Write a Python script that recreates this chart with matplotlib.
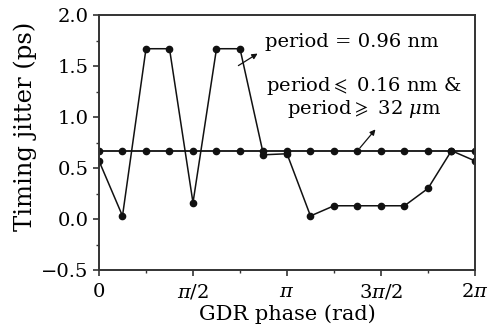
import numpy as np
from matplotlib import pyplot as plt
from matplotlib.ticker import MultipleLocator

# GDR phase points: 0 .. 2pi, step pi/8
phase_steps = list(range(17))
jitter_096 = [0.57, 0.03, 1.67, 1.67, 0.16, 1.67, 1.67, 0.63, 0.64,
              0.03, 0.13, 0.13, 0.13, 0.13, 0.30, 0.67, 0.57]
jitter_other = [0.67] * 17
xtick_labels = ['0', r'$\pi/2$', r'$\pi$', r'$3\pi/2$', r'$2\pi$']

phase = np.array(phase_steps) * np.pi / 8

plt.rcParams['font.family'] = 'DejaVu Serif'
plt.rcParams['mathtext.fontset'] = 'dejavuserif'

fig = plt.figure(figsize=(4.94, 3.35), dpi=100)
ax = fig.add_axes([0.2004, 0.194, 0.7611, 0.761])

ax.plot(phase, jitter_other, c='#111111', lw=1.3, marker='o', ms=4.5)
ax.plot(phase, jitter_096, c='#111111', lw=1.1, marker='o', ms=4.5)

ax.set_xlim(0, 2 * np.pi)
ax.set_ylim(-0.5, 2.0)
ax.set_xticks(np.arange(5) * np.pi / 2)
ax.set_xticklabels(xtick_labels)
ax.xaxis.set_minor_locator(MultipleLocator(np.pi / 4))
ax.yaxis.set_major_locator(MultipleLocator(0.5))
ax.yaxis.set_minor_locator(MultipleLocator(0.25))
ax.tick_params(axis='both', which='major', labelsize=14, length=4,
               width=1.2, color='#333333')
ax.tick_params(axis='x', which='major', pad=5)
ax.tick_params(axis='both', which='minor', length=2.5, width=1.0,
               color='#333333')
for s in ax.spines.values():
    s.set_linewidth(1.4)
    s.set_color('#333333')

ax.set_xlabel('GDR phase (rad)', fontsize=15, labelpad=2)
ax.set_ylabel('Timing jitter (ps)', fontsize=17.5)
ax.yaxis.set_label_coords(-0.165, 0.565)

# annotations
ax.text(2.77, 1.735, 'period = 0.96 nm', fontsize=14, va='center')
ax.annotate('', xy=(2.69, 1.637), xytext=(2.29, 1.49),
            arrowprops=dict(arrowstyle='-|>', color='#111111', lw=0.9,
                            mutation_scale=8))
ax.text(4.43, 1.19, 'period$\\leqslant$ 0.16 nm &\nperiod$\\geqslant$ 32 $\\mu$m',
        fontsize=14, ha='center', va='center', linespacing=1.1)
ax.annotate('', xy=(4.65, 0.90), xytext=(4.33, 0.676),
            arrowprops=dict(arrowstyle='-|>', color='#111111', lw=0.9,
                            mutation_scale=8))

plt.savefig('out.png', dpi=100)
